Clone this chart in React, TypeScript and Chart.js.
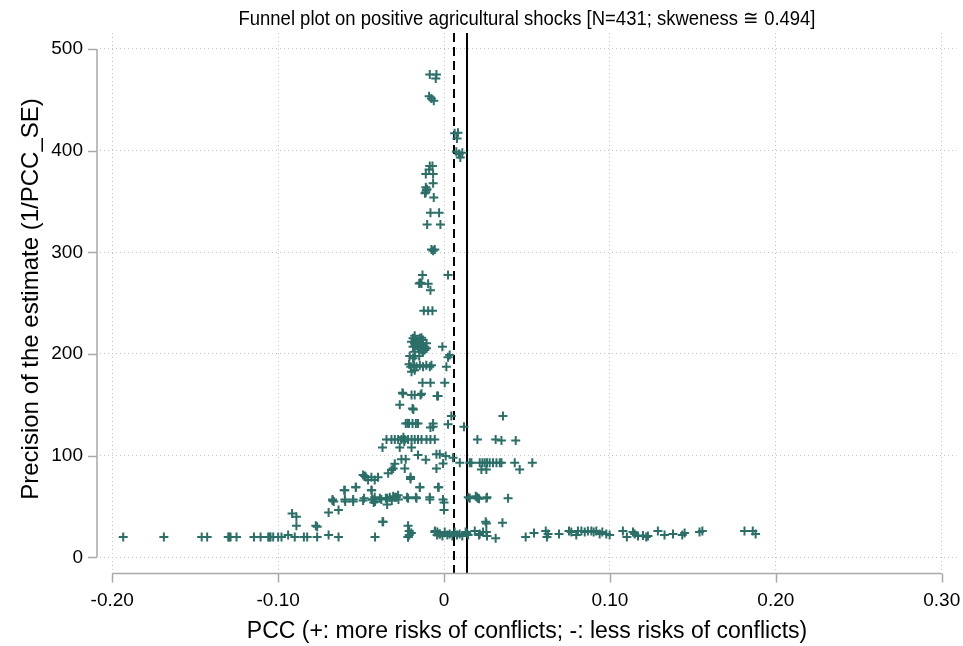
import React, { useEffect, useRef } from "react";
import { Chart, registerables } from "chart.js";

Chart.register(...registerables);

// ---- Data (PCC, precision = 1/PCC_SE) ----
const tailLeftPcc = [-0.1934, -0.1689, -0.1461, -0.1428, -0.1301, -0.1295, -0.1287, -0.1251, -0.1146, -0.1106, -0.106, -0.1052, -0.1046, -0.103, -0.1, -0.098, -0.094, -0.09, -0.0845, -0.0825, -0.0765, -0.0696, -0.0636, -0.0416, -0.0217];
const tailLeftPrec = [20, 20, 20, 20, 20, 20, 20, 20, 20, 20, 20, 20, 20, 20, 20, 20, 22, 20, 20, 20, 20, 22, 20, 20, 20];

const lowLeftPcc = [-0.0916, -0.089, -0.089, -0.0773, -0.0765, -0.0696, -0.0636, -0.0672, -0.0665, -0.0602, -0.0596, -0.0548, -0.0532, -0.0488, -0.0436, -0.0433, -0.0416, -0.0424, -0.0378, -0.0371, -0.0343, -0.0343, -0.0315, -0.0295, -0.0275, -0.0217, -0.0166, -0.0146, -0.0086, -0.0036, 0.0, 0.0, -0.0217, -0.021, -0.0197, -0.0217, -0.021, -0.0054, -0.004, -0.0367];
const lowLeftPrec = [43, 40, 31, 31, 30, 44, 46.5, 56, 55, 66, 55, 55, 69, 56, 66, 57, 55, 54, 57, 35, 58, 52, 56, 59, 57, 58, 58, 69, 57, 69, 54, 46.5, 31, 26, 24, 20, 22, 26, 25, 35];

const row57Pcc = [-0.0672, -0.0598, -0.0548, -0.0482, -0.0431, -0.0418, -0.0387, -0.0351, -0.0327, -0.0307, -0.0287, -0.0277, -0.0223, -0.017, -0.0086, -0.0006];
const row57Prec = [57, 57, 57, 58, 57, 59, 58, 58, 59, 60, 59, 61, 59, 59, 59, 57];

const midLeftPcc = [-0.0598, -0.0532, -0.0438, -0.0146, -0.0032, -0.0488, -0.0472, -0.0458, -0.0438, -0.0418, -0.0398, -0.0478, -0.0337, -0.0202, -0.0202, -0.0297, -0.0307, -0.0317, -0.0237, -0.0046, -0.0006, 0.0054, -0.0257, -0.0231, -0.0157, -0.011, -0.0046, -0.0026, 0.001];
const midLeftPrec = [66, 69, 66, 69, 69, 81, 79, 76, 78.7, 76, 78.7, 80, 82.6, 79, 77, 92, 87.5, 86, 87.5, 87.5, 92.4, 98, 96.4, 96.4, 100.6, 96, 101.5, 101.5, 99.6];

const band100Pcc = [-0.0347, -0.0317, -0.0297, -0.0277, -0.0257, -0.0237, -0.0217, -0.0196, -0.0177, -0.0157, -0.0136, -0.0106, -0.0082, -0.0056, -0.0245, -0.024, 0.0201, 0.0311, 0.0346, 0.0432, -0.0371, -0.0267, -0.0196, -0.0231, -0.0211, -0.019, -0.017, -0.0157, -0.022, -0.0066, -0.0066, -0.0082, 0.0024, 0.012, 0.0044, 0.0355, -0.0267, -0.019, -0.0185];
const band100Prec = [116, 116, 116, 116, 116, 116, 116, 116, 116, 116, 116, 116, 116, 116, 118, 114, 116, 116, 115, 115, 108, 108, 108, 131.6, 131.6, 131.6, 131.6, 131.6, 132, 131.6, 128.4, 127.8, 131, 128.4, 139, 139, 150, 146.5, 145.5];

const band200Pcc = [-0.0251, -0.0247, -0.0196, -0.0177, -0.0136, -0.0142, -0.0042, -0.0036, -0.013, -0.0082, 0.0004, -0.0211, -0.0201, -0.0181, -0.0166, -0.0146, -0.0127, -0.0107, -0.0086, -0.0076, -0.0196, -0.0177, 0.0014, -0.0207, -0.0177, -0.015, -0.0187, 0.0034, 0.0024, -0.001];
const band200Prec = [162, 161, 159.6, 159.6, 161, 159.6, 158.6, 158.6, 171.7, 171.7, 171.7, 190, 187.4, 189, 187.4, 189, 187.4, 189, 187.4, 189, 182.5, 184, 187.4, 198, 198, 198, 195.7, 199, 196.7, 207];

const clusterPcc = [-0.0187, -0.0166, -0.0177, -0.0146, -0.0127, -0.0136, -0.0116, -0.0106, -0.0187, -0.0157, -0.0136, -0.0127, -0.0177, -0.0196, -0.0116, -0.0146, -0.0166, -0.0106, -0.0157, -0.0136, -0.0146, -0.0177];
const clusterPrec = [215.4, 213.7, 210.5, 215.4, 213.7, 208.8, 207.2, 210.5, 207.2, 205.6, 203.9, 202.2, 202.2, 212, 203.9, 210.5, 208.8, 205.6, 212, 216, 205, 218];

const upperPcc = [-0.0122, -0.0096, -0.007, -0.013, 0.0024, -0.015, -0.0143, -0.0136, -0.0096, -0.0082, -0.0076, -0.0056, -0.0066, -0.0102, -0.0022, -0.0082, -0.003, -0.0062, -0.011, -0.0107, -0.0115, -0.0103, -0.011, -0.0066, -0.011, -0.0066, -0.0086, -0.007, -0.009, 0.0074, 0.009, 0.011, 0.0098, 0.0064, 0.0084, 0.0078, -0.009, -0.0076, -0.0062, -0.0086, -0.0046, -0.005];
const upperPrec = [242.5, 242.5, 242.5, 277.6, 277.6, 269.4, 270, 269.4, 269, 262.8, 302.8, 302.8, 301.5, 327.4, 327.4, 338.8, 338.8, 354, 364, 361, 358, 362, 359, 368, 377, 377, 384.8, 384.8, 381.5, 398.8, 396.6, 397.9, 393.3, 417, 417.6, 412, 453.6, 451.3, 449, 475, 475, 471];

const nearZeroPcc = [-0.0056, -0.0042, -0.0026, -0.001, 0.0004, 0.002, 0.0034, 0.005, 0.0064, 0.0078, 0.0094, 0.011, 0.013, 0.0145, -0.0026, 0.0137, 0.0185, 0.0211, 0.0251, 0.0255, 0.0259, 0.0215, 0.0235, 0.0311, 0.0255, 0.0352];
const nearZeroPrec = [25, 22, 23, 21, 25, 22, 23, 21, 25, 22, 23, 21, 25, 22, 23, 24, 26, 22, 35, 25, 21, 23, 25, 18.7, 33.4, 34];

const rightMidPcc = [0.0146, 0.0191, 0.0199, 0.0211, 0.0259, 0.0386, 0.0155, 0.0205, 0.0255, 0.0095, 0.0155, 0.0165, 0.0215, 0.0231, 0.0245, 0.0259, 0.0275, 0.0295, 0.0316, 0.0336, 0.0346, 0.0426, 0.0532, 0.0225, 0.0255, 0.0456];
const rightMidPrec = [59, 60, 59, 57.6, 59, 58, 58, 58, 58, 93, 93, 93, 93, 93, 93, 93, 93, 93, 93, 93, 93, 93, 93, 86.5, 86.5, 86.5];

const tailRightPcc = [0.0492, 0.0542, 0.0613, 0.0627, 0.062, 0.0693, 0.0753, 0.0767, 0.0797, 0.0807, 0.0828, 0.0848, 0.0867, 0.0888, 0.0902, 0.0918, 0.0938, 0.0954, 0.0978, 0.0998, 0.1078, 0.1102, 0.1139, 0.1149, 0.1169, 0.1199, 0.1219, 0.1229, 0.1289, 0.1329, 0.138, 0.1436, 0.145, 0.154, 0.1557, 0.1811, 0.1861, 0.1878];
const tailRightPrec = [20, 24, 26, 23, 20, 23, 26, 25, 22, 26, 26, 25, 26, 26, 25, 26, 23, 25, 23, 22, 26, 20, 25, 23, 21, 21.5, 20, 21, 26, 22, 23, 22, 24, 25, 26, 26, 26, 23];

const xTickValues = [-0.2, -0.1, 0, 0.1, 0.2, 0.3];
const yTickValues = [0, 100, 200, 300, 400, 500];
const dashedLineAt = 0.006;
const solidLineAt = 0.014;

const titleText = "Funnel plot on positive agricultural shocks [N=431; skweness \u2245 0.494]";
const xTitle = "PCC (+: more risks of conflicts; -: less risks of conflicts)";
const yTitle = "Precision of the estimate (1/PCC_SE)";

const groups: [number[], number[]][] = [
  [tailLeftPcc, tailLeftPrec],
  [lowLeftPcc, lowLeftPrec],
  [row57Pcc, row57Prec],
  [midLeftPcc, midLeftPrec],
  [band100Pcc, band100Prec],
  [band200Pcc, band200Prec],
  [clusterPcc, clusterPrec],
  [upperPcc, upperPrec],
  [nearZeroPcc, nearZeroPrec],
  [rightMidPcc, rightMidPrec],
  [tailRightPcc, tailRightPrec],
];

const MARK = "#2b6f68";
const AXIS_GRAY = "#a8a8a8";
const SANS = "'Liberation Sans', Arial, sans-serif";

export default function App() {
  const ref = useRef<HTMLCanvasElement | null>(null);

  useEffect(() => {
    if (!ref.current) return;
    const points: { x: number; y: number }[] = [];
    groups.forEach(([xs, ys]) => xs.forEach((x, i) => points.push({ x, y: ys[i] })));

    const decor = {
      id: "decor",
      beforeDatasetsDraw(chart: any) {
        const { ctx, chartArea, scales } = chart;
        const xs = scales.x;
        ctx.save();
        ctx.strokeStyle = "#000";
        ctx.lineWidth = 2;
        ctx.setLineDash([9, 5]);
        let px = Math.round(xs.getPixelForValue(dashedLineAt));
        ctx.beginPath(); ctx.moveTo(px, chartArea.top); ctx.lineTo(px, chartArea.bottom); ctx.stroke();
        ctx.setLineDash([]);
        px = Math.round(xs.getPixelForValue(solidLineAt));
        ctx.beginPath(); ctx.moveTo(px, chartArea.top); ctx.lineTo(px, chartArea.bottom); ctx.stroke();
        ctx.restore();
      },
      afterDraw(chart: any) {
        const { ctx, chartArea, scales } = chart;
        const xs = scales.x, ys = scales.y;
        ctx.save();
        ctx.strokeStyle = AXIS_GRAY;
        ctx.lineWidth = 1.5;
        const yb = chartArea.bottom + 0.5;
        const x0 = xs.getPixelForValue(xTickValues[0]);
        const x1 = xs.getPixelForValue(xTickValues[xTickValues.length - 1]);
        ctx.beginPath(); ctx.moveTo(x0, yb); ctx.lineTo(x1, yb); ctx.stroke();
        xTickValues.forEach((v) => {
          const p = Math.round(xs.getPixelForValue(v)) + 0.5;
          ctx.beginPath(); ctx.moveTo(p, yb); ctx.lineTo(p, yb + 9); ctx.stroke();
        });
        const xl = chartArea.left - 3;
        const y0 = ys.getPixelForValue(yTickValues[0]);
        const y1 = ys.getPixelForValue(yTickValues[yTickValues.length - 1]);
        ctx.beginPath(); ctx.moveTo(xl, y0); ctx.lineTo(xl, y1); ctx.stroke();
        yTickValues.forEach((v) => {
          const p = Math.round(ys.getPixelForValue(v)) + 0.5;
          ctx.beginPath(); ctx.moveTo(xl, p); ctx.lineTo(xl - 9, p); ctx.stroke();
        });
        ctx.fillStyle = "#000";
        ctx.textAlign = "center";
        ctx.textBaseline = "middle";
        const cx = (x0 + x1) / 2;
        ctx.font = "21px " + SANS;
        ctx.fillText(titleText, cx, 19, 577);
        ctx.font = "23px " + SANS;
        ctx.fillText(xTitle, cx, 632);
        ctx.save();
        ctx.font = "24px " + SANS;
        ctx.translate(31, 299);
        ctx.rotate(-Math.PI / 2);
        ctx.fillText(yTitle, 0, 0);
        ctx.restore();
        ctx.restore();
      },
    };

    const chart = new Chart(ref.current, {
      type: "scatter",
      data: {
        datasets: [
          {
            data: points,
            pointStyle: "cross",
            pointRadius: 4.5,
            pointHoverRadius: 4.5,
            borderWidth: 2,
            borderColor: MARK,
            backgroundColor: MARK,
          },
        ],
      },
      options: {
        animation: false,
        responsive: false,
        events: [],
        layout: { padding: { top: 33, right: 6, left: 0, bottom: 0 } },
        plugins: { legend: { display: false }, tooltip: { enabled: false }, title: { display: false } },
        scales: {
          x: {
            type: "linear",
            min: -0.2074,
            max: 0.3089,
            afterFit: (s: any) => { s.height = 73; s.paddingLeft = 0; s.paddingRight = 0; },
            border: { display: false, dash: [1, 3] },
            grid: { color: "#c4c4c4", lineWidth: 1, drawTicks: false },
            ticks: {
              stepSize: 0.1,
              includeBounds: false,
              padding: 16,
              color: "#000",
              font: { family: SANS, size: 19 },
              callback: (v: any) => (Math.abs(Number(v)) < 1e-9 ? "0" : Number(v).toFixed(2)),
            },
          },
          y: {
            type: "linear",
            min: -15.4,
            max: 515.7,
            afterFit: (s: any) => { s.width = 100; s.paddingTop = 0; s.paddingBottom = 0; },
            border: { display: false, dash: [1, 3] },
            grid: { color: "#c4c4c4", lineWidth: 1, drawTicks: false },
            ticks: {
              stepSize: 100,
              includeBounds: false,
              padding: 17,
              color: "#000",
              font: { family: SANS, size: 19 },
              callback: (v: any) => String(Math.round(Number(v))),
            },
          },
        },
      },
      plugins: [decor],
    });
    return () => chart.destroy();
  }, []);

  return (
    <div style={{ position: "fixed", left: 0, top: 0, width: 963, height: 646, background: "#fff" }}>
      <canvas ref={ref} width={963} height={646} style={{ width: 963, height: 646 }} />
    </div>
  );
}
